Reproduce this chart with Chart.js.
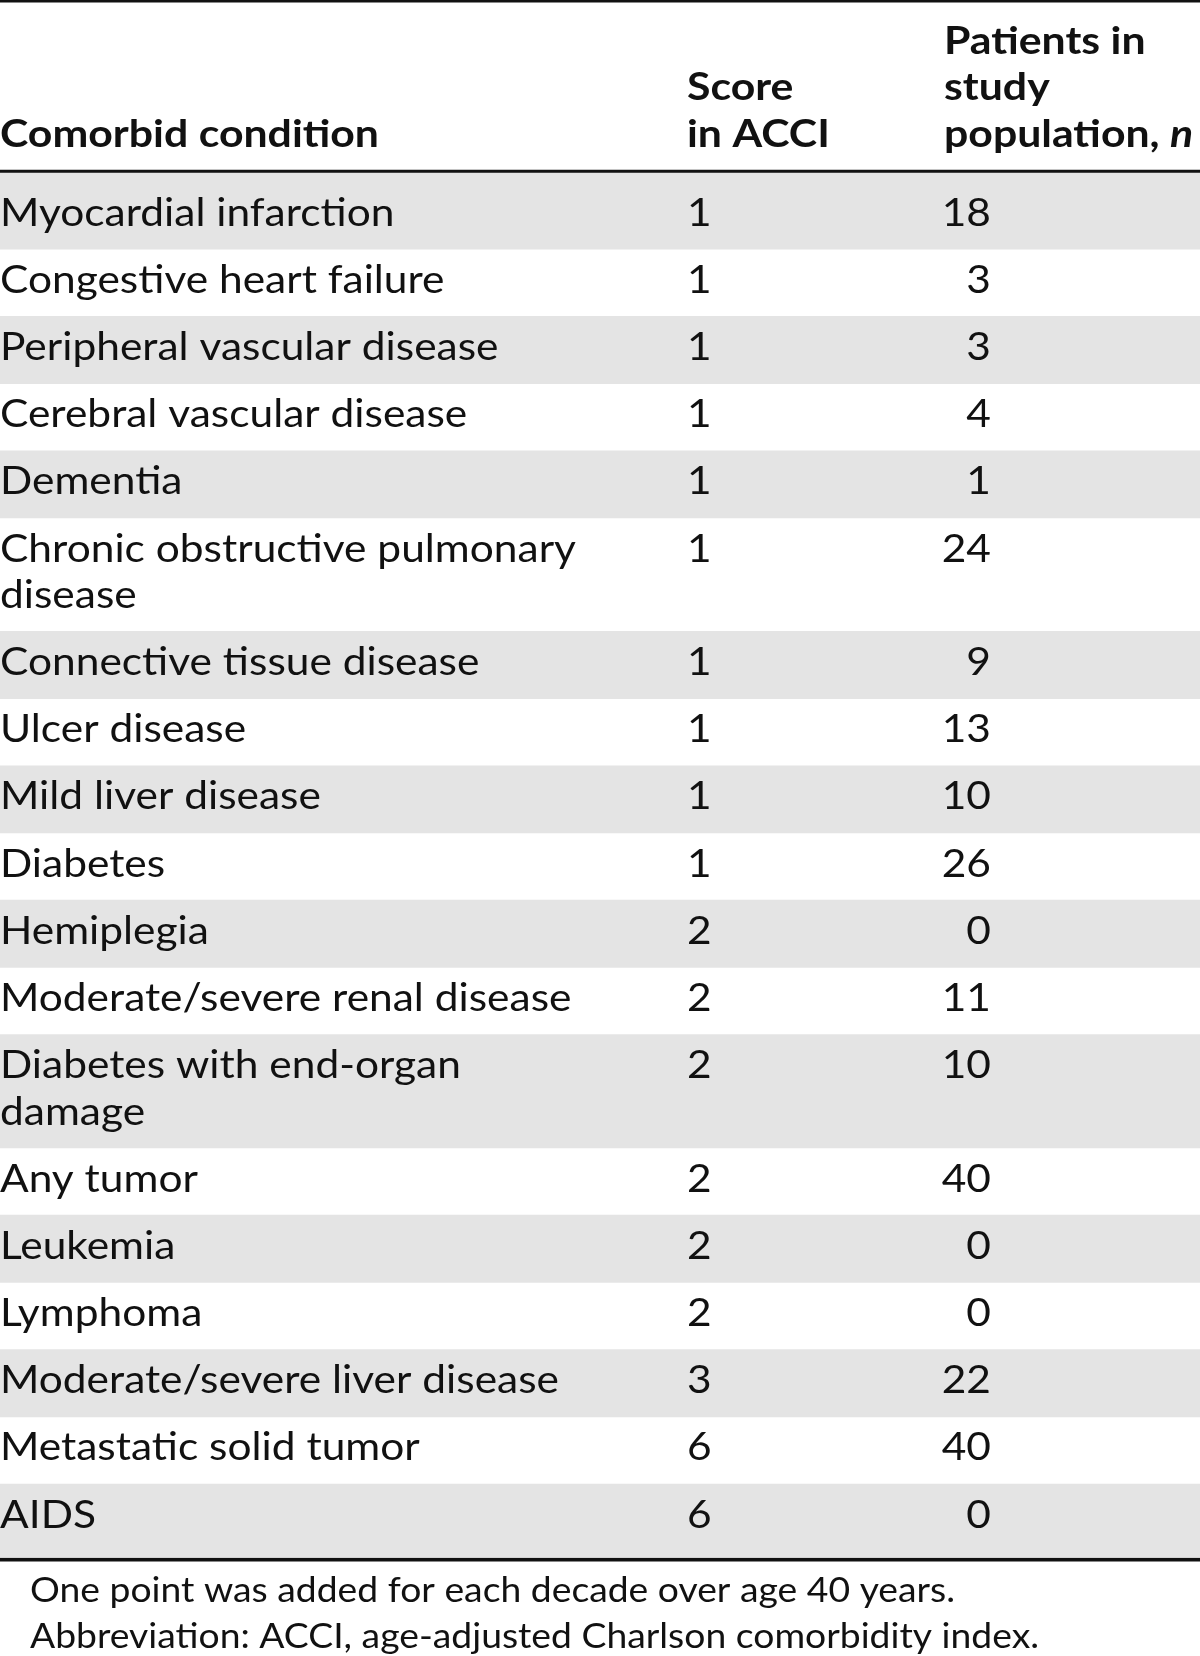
<!DOCTYPE html>
<html>
<head>
<meta charset="utf-8">
<script src="https://cdn.jsdelivr.net/npm/chart.js@4.4.1/dist/chart.umd.min.js"></script>
<style>
  html, body { margin: 0; padding: 0; background: #fff; }
  #wrap { width: 1200px; height: 1656px; }
</style>
</head>
<body>
<div id="wrap"><canvas id="tableChart" width="1200" height="1656"></canvas></div>
<script>
// ---- data ----
const CONDITIONS = [
  ["Myocardial infarction"],
  ["Congestive heart failure"],
  ["Peripheral vascular disease"],
  ["Cerebral vascular disease"],
  ["Dementia"],
  ["Chronic obstructive pulmonary", "disease"],
  ["Connective tissue disease"],
  ["Ulcer disease"],
  ["Mild liver disease"],
  ["Diabetes"],
  ["Hemiplegia"],
  ["Moderate/severe renal disease"],
  ["Diabetes with end-organ", "damage"],
  ["Any tumor"],
  ["Leukemia"],
  ["Lymphoma"],
  ["Moderate/severe liver disease"],
  ["Metastatic solid tumor"],
  ["AIDS"]
];
const SCORES = [1, 1, 1, 1, 1, 1, 1, 1, 1, 1, 2, 2, 2, 2, 2, 2, 3, 6, 6];
const PATIENTS = [18, 3, 3, 4, 1, 24, 9, 13, 10, 26, 0, 11, 10, 40, 0, 0, 22, 40, 0];

const HEAD_CONDITION = ["Comorbid condition"];
const HEAD_SCORE = ["Score", "in ACCI"];
const HEAD_PATIENTS = ["Patients in", "study", "population, "];
const HEAD_PATIENTS_ITALIC = "n";

const FOOTNOTES = [
  "One point was added for each decade over age 40 years.",
  "Abbreviation: ACCI, age-adjusted Charlson comorbidity index."
];

// ---- layout / style ----
const W = 1200, H = 1656;
const BODY_TOP = 173;
const ROW_H = 67.2;        // single-line row
const EXTRA_LINE = 46.2;   // each extra wrapped line
const FIRST_PAD = 9;       // extra space under header rule
const LAST_PAD = 6;        // extra space above bottom rule
const BASE_OFF = 43.5;     // row top -> first baseline
const LINE_GAP = 46.5;     // baseline to baseline
const HEAD_BASE = 146.5;   // header last-line baseline
const COL_COND = 0, COL_SCORE = 687, COL_N_RIGHT = 991, COL_N_HEAD = 944;
const FOOT_X = 30, FOOT_BASE = 1601.5;

const GREY = "#e4e4e4";
const INK = "#111111";
const FONT_BODY = "38px Lato";
const FONT_HEAD = "bold 38px Lato";
const FONT_HEAD_IT = "italic bold 38px Lato";
const FONT_FOOT = "35px Lato";

// row extents computed from line counts
const rowTops = [], rowBottoms = [];
let cursor = BODY_TOP;
CONDITIONS.forEach((lines, i) => {
  let h = ROW_H + (lines.length - 1) * EXTRA_LINE;
  if (i === 0) h += FIRST_PAD;
  if (i === CONDITIONS.length - 1) h += LAST_PAD;
  rowTops.push(cursor);
  cursor += h;
  rowBottoms.push(cursor);
});
const BODY_END = cursor;

const stripes = [];
rowTops.forEach((t, i) => {
  if (i % 2 === 0) stripes.push({ x: "t", y: [t, rowBottoms[i]] });
});
const rules = [
  { x: "t", y: [0, 2.2] },
  { x: "t", y: [BODY_TOP - 3, BODY_TOP] },
  { x: "t", y: [BODY_END + 1, BODY_END + 4] }
];

function drawScaled(ctx, text, x, y, sx, align) {
  ctx.save();
  ctx.translate(x, y);
  ctx.scale(sx, 1);
  ctx.textAlign = align || "left";
  ctx.fillText(text, 0, 0);
  ctx.restore();
}

/* ==== text of the cells ==== */
const cellText = {
  id: "cellText",
  afterDatasetsDraw(chart) {
    const { ctx } = chart;
    const ys = chart.scales.y, xs = chart.scales.xc;
    ctx.save();
    ctx.fillStyle = INK;
    ctx.textBaseline = "alphabetic";

    ctx.font = FONT_BODY;
    const sxBody = 576 / ctx.measureText("Chronic obstructive pulmonary").width;
    ctx.font = FONT_HEAD;
    const sxHead = 379 / ctx.measureText("Comorbid condition").width;
    ctx.font = FONT_FOOT;
    const sxFoot = 925 / ctx.measureText(FOOTNOTES[0]).width;

    // header (bottom aligned)
    ctx.font = FONT_HEAD;
    const headCol = (lines, xv) => {
      lines.forEach((s, k) => {
        const yv = HEAD_BASE - (lines.length - 1 - k) * LINE_GAP;
        drawScaled(ctx, s, xs.getPixelForValue(xv), ys.getPixelForValue(yv), sxHead);
      });
    };
    headCol(HEAD_CONDITION, COL_COND);
    headCol(HEAD_SCORE, COL_SCORE);
    headCol(HEAD_PATIENTS, COL_N_HEAD);
    const lastW = ctx.measureText(HEAD_PATIENTS[HEAD_PATIENTS.length - 1]).width * sxHead;
    ctx.font = FONT_HEAD_IT;
    drawScaled(ctx, HEAD_PATIENTS_ITALIC, xs.getPixelForValue(COL_N_HEAD) + lastW,
      ys.getPixelForValue(HEAD_BASE), sxHead);

    // body
    ctx.font = FONT_BODY;
    CONDITIONS.forEach((lines, i) => {
      const base = rowTops[i] + BASE_OFF + (i === 0 ? FIRST_PAD : 0);
      lines.forEach((s, k) => {
        drawScaled(ctx, s, xs.getPixelForValue(COL_COND), ys.getPixelForValue(base + k * LINE_GAP), sxBody);
      });
      drawScaled(ctx, String(SCORES[i]), xs.getPixelForValue(COL_SCORE), ys.getPixelForValue(base), sxBody);
      drawScaled(ctx, String(PATIENTS[i]), xs.getPixelForValue(COL_N_RIGHT), ys.getPixelForValue(base), sxBody, "right");
    });

    // footnotes
    ctx.font = FONT_FOOT;
    FOOTNOTES.forEach((s, k) => {
      drawScaled(ctx, s, xs.getPixelForValue(FOOT_X), ys.getPixelForValue(FOOT_BASE + k * LINE_GAP), sxFoot);
    });
    ctx.restore();
  }
};

const chart = new Chart(document.getElementById("tableChart"), {
  type: "bar",
  data: {
    labels: ["t"],
    datasets: [
      {
        label: "stripes",
        data: stripes,
        backgroundColor: GREY,
        borderWidth: 0,
        grouped: false,
        categoryPercentage: 1,
        barPercentage: 1
      },
      {
        label: "rules",
        data: rules,
        backgroundColor: INK,
        borderWidth: 0,
        grouped: false,
        categoryPercentage: 1,
        barPercentage: 1
      }
    ]
  },
  options: {
    responsive: false,
    devicePixelRatio: 1,
    animation: false,
    layout: { padding: 0 },
    scales: {
      x: { type: "category", display: false },
      xc: { type: "linear", axis: "x", min: 0, max: W, offset: false, grace: 0, display: false },
      y: { type: "linear", min: 0, max: H, reverse: true, display: false }
    },
    plugins: {
      legend: { display: false },
      tooltip: { enabled: false }
    }
  },
  plugins: [cellText]
});
</script>
</body>
</html>
